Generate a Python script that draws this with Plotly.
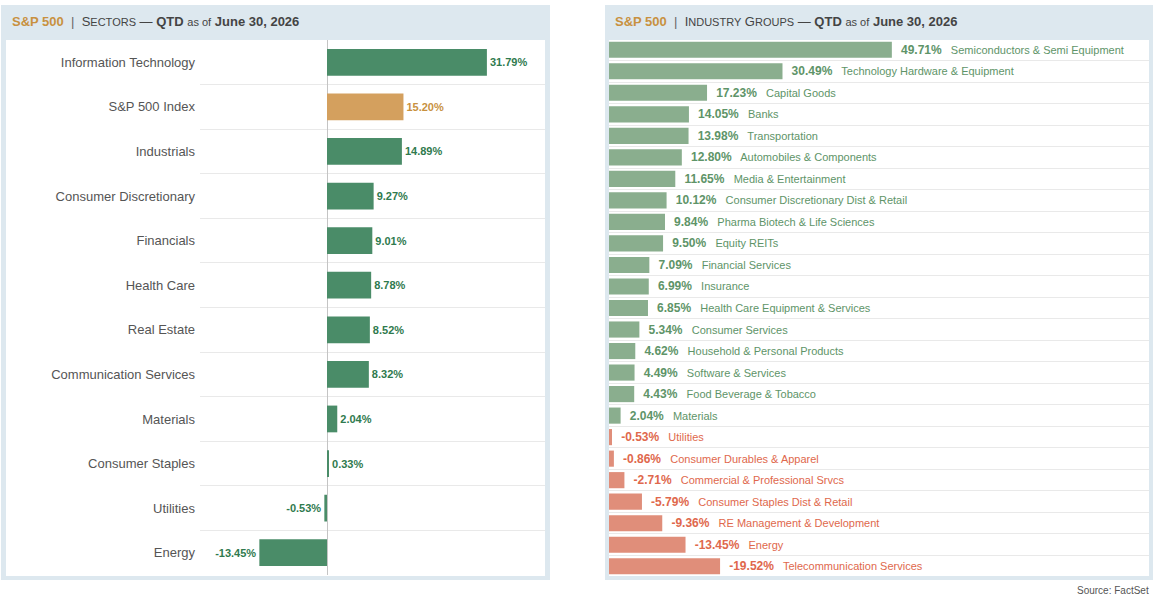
import plotly.graph_objects as go

W, H = 1157, 597

# ---------------- Data ----------------
sector_names = ["Information Technology", "S&P 500 Index", "Industrials", "Consumer Discretionary",
                "Financials", "Health Care", "Real Estate", "Communication Services",
                "Materials", "Consumer Staples", "Utilities", "Energy"]
sector_values = [31.79, 15.20, 14.89, 9.27, 9.01, 8.78, 8.52, 8.32, 2.04, 0.33, -0.53, -13.45]

group_names = ["Semiconductors & Semi Equipment", "Technology Hardware & Equipment", "Capital Goods",
               "Banks", "Transportation", "Automobiles & Components", "Media & Entertainment",
               "Consumer Discretionary Dist & Retail", "Pharma Biotech & Life Sciences", "Equity REITs",
               "Financial Services", "Insurance", "Health Care Equipment & Services",
               "Consumer Services", "Household & Personal Products", "Software & Services",
               "Food Beverage & Tobacco", "Materials", "Utilities", "Consumer Durables & Apparel",
               "Commercial & Professional Srvcs", "Consumer Staples Dist & Retail",
               "RE Management & Development", "Energy", "Telecommunication Services"]
group_values = [49.71, 30.49, 17.23, 14.05, 13.98, 12.80, 11.65, 10.12, 9.84, 9.50, 7.09, 6.99, 6.85,
                5.34, 4.62, 4.49, 4.43, 2.04, -0.53, -0.86, -2.71, -5.79, -9.36, -13.45, -19.52]

# ---------------- Style ----------------
FONT = "Arial, Liberation Sans, Helvetica, sans-serif"
FRAME = "#dde8ef"
GRID = "#e9e9e9"
SEC_BAR = "#4a8c68"
SEC_TXT = "#2f7a4e"
IDX_BAR = "#d4a05e"
IDX_TXT = "#c8913f"
POS_BAR = "#8aae8e"
POS_TXT = "#5e9468"
NEG_BAR = "#e08e7a"
NEG_TXT = "#e0684c"


def px(x):
    return x / W


def py(y):
    return 1 - y / H


fig = go.Figure()

# Left: sectors
sec_colors = [IDX_BAR if n == "S&P 500 Index" else SEC_BAR for n in sector_names]
sec_tcolors = [IDX_TXT if n == "S&P 500 Index" else SEC_TXT for n in sector_names]
fig.add_trace(go.Bar(
    x=sector_values, y=sector_names, orientation="h",
    marker=dict(color=sec_colors, line=dict(width=0)),
    width=0.6,
    text=[f"<b>{v:.2f}%</b>" for v in sector_values],
    textposition="outside", textangle=0, constraintext="none", cliponaxis=False,
    textfont=dict(family=FONT, size=11, color=sec_tcolors),
    xaxis="x", yaxis="y", hoverinfo="skip", showlegend=False,
))

# Right: industry groups
g_abs = [abs(v) for v in group_values]
g_colors = [POS_BAR if v >= 0 else NEG_BAR for v in group_values]
g_tcolors = [POS_TXT if v >= 0 else NEG_TXT for v in group_values]
g_text = [f"  <span style='font-size:12px'><b>{v:.2f}%</b></span>   {n}" for v, n in zip(group_values, group_names)]
fig.add_trace(go.Bar(
    x=g_abs, y=group_names, orientation="h",
    marker=dict(color=g_colors, line=dict(width=0)),
    width=0.75,
    text=g_text,
    textposition="outside", textangle=0, constraintext="none", cliponaxis=False,
    textfont=dict(family=FONT, size=11, color=g_tcolors),
    xaxis="x2", yaxis="y2", hoverinfo="skip", showlegend=False,
))

left_zero = 327
left_scale = 5.03
right_zero = 609
right_scale = 5.69

fig.update_layout(
    width=W, height=H, margin=dict(l=0, r=0, t=0, b=0),
    paper_bgcolor="white", plot_bgcolor="rgba(0,0,0,0)",
    font=dict(family=FONT),
    xaxis=dict(domain=[px(200), px(545)],
               range=[(200 - left_zero) / left_scale, (545 - left_zero) / left_scale],
               showgrid=False, zeroline=True, zerolinecolor="#c4c4c4", zerolinewidth=1,
               showticklabels=False, fixedrange=True),
    yaxis=dict(domain=[py(575), py(40)], type="category", autorange="reversed",
               tickson="boundaries", showgrid=True, gridcolor=GRID, gridwidth=1,
               ticks="", ticklabelstandoff=4, zeroline=False, showline=False,
               tickfont=dict(family=FONT, size=13, color="#555555"), anchor="x"),
    xaxis2=dict(domain=[px(609), px(1149)],
                range=[0, (1149 - right_zero) / right_scale],
                showgrid=False, zeroline=False, showticklabels=False, anchor="y2"),
    yaxis2=dict(domain=[py(577), py(39)], type="category", autorange="reversed",
                tickson="boundaries", showgrid=True, gridcolor=GRID, gridwidth=1,
                ticks="", showticklabels=False, zeroline=False, anchor="x2"),
)

# Panel frames
shapes = []
for (x0, x1, ix0, ix1) in [(1, 550, 6, 545), (605, 1153, 609, 1149)]:
    shapes.append(dict(type="rect", xref="paper", yref="paper", x0=px(x0), x1=px(x1),
                       y0=py(580), y1=py(5), fillcolor=FRAME, line=dict(width=0), layer="below"))
    shapes.append(dict(type="rect", xref="paper", yref="paper", x0=px(ix0), x1=px(ix1),
                       y0=py(576), y1=py(40), fillcolor="white", line=dict(width=0), layer="below"))
fig.update_layout(shapes=shapes)

sm = "<span style='font-size:11px'>"
left_title = (f"<b><span style='color:{IDX_TXT}'>S&P 500</span></b>"
              f"  <span style='color:#666'>|</span>  S{sm}ECTORS</span> — "
              f"<b>QTD</b> {sm}as of</span> <b>June 30, 2026</b>")
right_title = (f"<b><span style='color:{IDX_TXT}'>S&P 500</span></b>"
               f"  <span style='color:#666'>|</span>  I{sm}NDUSTRY</span> G{sm}ROUPS</span> — "
               f"<b>QTD</b> {sm}as of</span> <b>June 30, 2026</b>")

fig.add_annotation(text=left_title, xref="paper", yref="paper", x=px(10), y=py(22),
                   xanchor="left", yanchor="middle", showarrow=False,
                   font=dict(family=FONT, size=13, color="#444444"))
fig.add_annotation(text=right_title, xref="paper", yref="paper", x=px(613), y=py(22),
                   xanchor="left", yanchor="middle", showarrow=False,
                   font=dict(family=FONT, size=13, color="#444444"))
fig.add_annotation(text="Source: FactSet", xref="paper", yref="paper", x=px(1151), y=py(590),
                   xanchor="right", yanchor="middle", showarrow=False,
                   font=dict(family=FONT, size=10, color="#555555"))

fig.write_html("out.html")
